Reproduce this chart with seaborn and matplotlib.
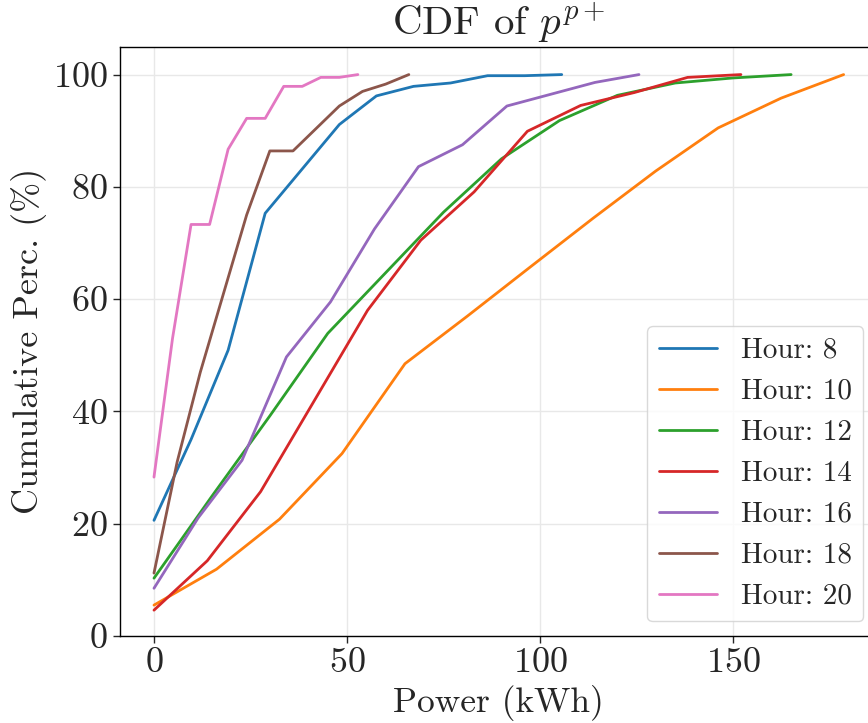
import matplotlib
matplotlib.use("Agg")
import matplotlib.pyplot as plt
import seaborn as sns
import pandas as pd

hours = [8, 10, 12, 14, 16, 18, 20]

power_h8 = [0, 9.6, 19.2, 28.8, 38.4, 48.0, 57.6, 67.2, 76.8, 86.4, 96.0, 105.6]
cdf_h8 = [20.6, 35.0, 50.9, 75.3, 83.2, 91.1, 96.2, 97.9, 98.5, 99.8, 99.8, 100]

power_h10 = [0, 16.2, 32.5, 48.7, 65.0, 81.2, 97.4, 113.7, 129.9, 146.1, 162.4, 178.6]
cdf_h10 = [5.5, 11.9, 20.8, 32.5, 48.5, 57.0, 65.7, 74.4, 82.8, 90.5, 95.8, 100]

power_h12 = [0, 15, 30, 45, 60, 75, 90, 105, 120, 135, 150, 165]
cdf_h12 = [10.3, 24.9, 39.2, 53.9, 64.7, 75.5, 85.0, 91.8, 96.3, 98.5, 99.4, 100]

power_h14 = [0, 13.8, 27.6, 41.5, 55.3, 69.1, 82.9, 96.7, 110.5, 124.4, 138.2, 152.0]
cdf_h14 = [4.6, 13.4, 25.7, 41.9, 58.0, 70.5, 79.1, 89.9, 94.5, 96.8, 99.5, 100]

power_h16 = [0, 11.4, 22.8, 34.3, 45.7, 57.1, 68.5, 79.9, 91.4, 102.8, 114.2, 125.6]
cdf_h16 = [8.5, 21.0, 31.3, 49.7, 59.5, 72.5, 83.6, 87.5, 94.4, 96.5, 98.6, 100]

power_h18 = [0, 6, 12, 18, 24, 30, 36, 42, 48, 54, 60, 66]
cdf_h18 = [11.2, 31.0, 47.0, 61.0, 75.0, 86.4, 86.4, 90.4, 94.4, 97.0, 98.3, 100]

power_h20 = [0, 4.8, 9.6, 14.4, 19.2, 24.0, 28.8, 33.6, 38.4, 43.2, 48.0, 52.8]
cdf_h20 = [28.3, 53.0, 73.3, 73.3, 86.7, 92.2, 92.2, 97.9, 97.9, 99.5, 99.5, 100]

xticks = [0, 50, 100, 150]
yticks = [0, 20, 40, 60, 80, 100]

series = {
    8: (power_h8, cdf_h8),
    10: (power_h10, cdf_h10),
    12: (power_h12, cdf_h12),
    14: (power_h14, cdf_h14),
    16: (power_h16, cdf_h16),
    18: (power_h18, cdf_h18),
    20: (power_h20, cdf_h20),
}

rows = []
for h in hours:
    xs, ys = series[h]
    for x, y in zip(xs, ys):
        rows.append({"Power": x, "CDF": y, "Hour": f"Hour: {h}"})
df = pd.DataFrame(rows)
hue_order = [f"Hour: {h}" for h in hours]

sns.set_style("ticks")
plt.rcParams["font.family"] = ["cmr10", "DejaVu Serif"]
plt.rcParams["mathtext.fontset"] = "cm"
plt.rcParams["axes.formatter.use_mathtext"] = True
plt.rcParams["axes.unicode_minus"] = False

fig = plt.figure(figsize=(8.68, 7.23), dpi=100)
ax = fig.add_axes([119.5 / 868, (723 - 636) / 723, (878 - 119.5) / 868, (636 - 46.5) / 723])

sns.lineplot(data=df, x="Power", y="CDF", hue="Hour", hue_order=hue_order,
             palette="tab10", linewidth=2, errorbar=None, ax=ax, sort=False)

ax.set_ylim(0, 105)
ax.set_xlim(-8.93, 187.5)
ax.set_xticks(xticks)
ax.set_yticks(yticks)
ax.grid(True, color="#e8e8e8", linewidth=1)
ax.set_axisbelow(True)
for s in ax.spines.values():
    s.set_color("black")
    s.set_linewidth(1.0)
ax.tick_params(axis="both", labelsize=26, direction="out", length=5, width=1)

ax.set_xlabel("Power (kWh)", fontsize=25.5)
ax.set_ylabel("Cumulative Perc. (%)", fontsize=26)
ax.set_title("CDF of $p^{p+}$", fontsize=29.5)

leg = ax.legend(loc="lower right", fontsize=21, title=None, frameon=True)
leg.get_frame().set_edgecolor("#d0d0d0")

fig.savefig("out.png", dpi=100)
